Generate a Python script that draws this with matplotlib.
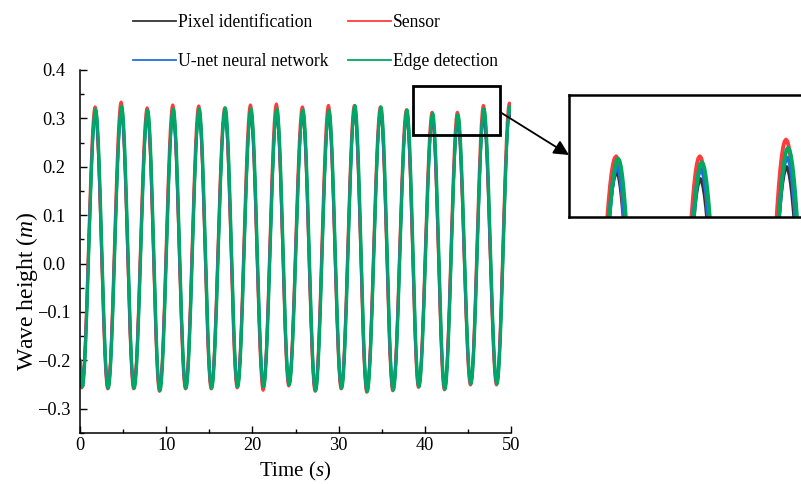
import numpy as np
import matplotlib
matplotlib.use('Agg')
import matplotlib.pyplot as plt
from matplotlib.lines import Line2D
from matplotlib.patches import Rectangle
from matplotlib.ticker import MultipleLocator

plt.rcParams['font.family'] = ['Liberation Serif', 'DejaVu Serif']
plt.rcParams['mathtext.fontset'] = 'custom'
plt.rcParams['mathtext.rm'] = 'Liberation Serif'
plt.rcParams['mathtext.it'] = 'Liberation Serif:italic'
plt.rcParams['axes.unicode_minus'] = True

# ---------------- data ----------------
series_names = ['Pixel identification', 'Sensor', 'U-net neural network', 'Edge detection']
series_colors = ['#333333', '#ff3b3b', '#1f6fe0', '#00a862']

# times of the wave troughs and crests (s), Edge detection curve
trough_times = [0.27, 3.28, 6.29, 9.28, 12.30, 15.28, 18.30, 21.31, 24.28,
                27.34, 30.36, 33.33, 36.35, 39.33, 42.34, 45.36, 48.38]
peak_times = [1.82, 4.84, 7.86, 10.83, 13.84, 16.86, 19.84, 22.85, 25.87,
              28.89, 31.90, 34.92, 37.94, 40.92, 43.85, 46.87, 49.88]

# time shift of each series relative to the trough/crest times (s)
lag_pixel = -0.05
lag_sensor = -0.07
lag_unet = -0.03
lag_edge = 0.0

# value at t = 0 and at t = 50 s
start_pixel, end_pixel = -0.200, 0.305
start_sensor, end_sensor = -0.205, 0.322
start_unet, end_unet = -0.200, 0.310
start_edge, end_edge = -0.200, 0.316

troughs_edge = [-0.255, -0.258, -0.258, -0.263, -0.258, -0.258, -0.255, -0.255, -0.251,
                -0.263, -0.258, -0.265, -0.262, -0.255, -0.260, -0.249, -0.249]
troughs_sensor = [-0.257, -0.259, -0.259, -0.264, -0.259, -0.259, -0.257, -0.262, -0.253,
                  -0.264, -0.259, -0.266, -0.263, -0.256, -0.261, -0.251, -0.251]
troughs_unet = [-0.253, -0.256, -0.256, -0.261, -0.256, -0.256, -0.253, -0.253, -0.249,
                -0.261, -0.256, -0.263, -0.260, -0.253, -0.258, -0.247, -0.247]
troughs_pixel = [-0.252, -0.255, -0.255, -0.260, -0.255, -0.255, -0.252, -0.252, -0.248,
                 -0.260, -0.255, -0.262, -0.259, -0.252, -0.257, -0.246, -0.246]

peaks_edge = [0.319, 0.325, 0.317, 0.320, 0.320, 0.322, 0.320, 0.320, 0.318,
              0.317, 0.327, 0.324, 0.318, 0.311, 0.308, 0.320, 0.325]
peaks_sensor = [0.324, 0.334, 0.322, 0.328, 0.326, 0.322, 0.328, 0.330, 0.324,
                0.327, 0.327, 0.324, 0.318, 0.313, 0.313, 0.327, 0.332]
peaks_unet = [0.314, 0.319, 0.312, 0.314, 0.315, 0.317, 0.314, 0.314, 0.313,
              0.312, 0.321, 0.318, 0.312, 0.304, 0.302, 0.312, 0.319]
peaks_pixel = [0.309, 0.313, 0.307, 0.309, 0.310, 0.312, 0.309, 0.309, 0.308,
               0.307, 0.315, 0.312, 0.306, 0.300, 0.294, 0.304, 0.313]

x_ticks = [0, 10, 20, 30, 40, 50]
y_ticks = [-0.3, -0.2, -0.1, 0.0, 0.1, 0.2, 0.3, 0.4]
y_tick_labels = ['\u22120.3', '\u22120.2', '\u22120.1', '0.0', '0.1', '0.2', '0.3', '0.4']

series = [
    (lag_pixel, start_pixel, end_pixel, troughs_pixel, peaks_pixel),
    (lag_sensor, start_sensor, end_sensor, troughs_sensor, peaks_sensor),
    (lag_unet, start_unet, end_unet, troughs_unet, peaks_unet),
    (lag_edge, start_edge, end_edge, troughs_edge, peaks_edge),
]


def wave_curve(lag, start, end, troughs, peaks):
    """Smooth curve through the read extrema (half-cosine between neighbours)."""
    kt = [0.0]
    kv = [start]
    for tt, tv, pt, pv in zip(trough_times, troughs, peak_times, peaks):
        kt += [tt + lag, pt + lag]
        kv += [tv, pv]
    kt.append(50.0)
    kv.append(end)
    ts, vs = [], []
    for i in range(len(kt) - 1):
        u = np.linspace(0, 1, 30, endpoint=False)
        ts.append(kt[i] + (kt[i + 1] - kt[i]) * u)
        vs.append(kv[i] + (kv[i + 1] - kv[i]) * (1 - np.cos(np.pi * u)) / 2)
    ts.append([kt[-1]])
    vs.append([kv[-1]])
    return np.concatenate(ts), np.concatenate(vs)


curves = [wave_curve(*s) for s in series]

# ---------------- figure ----------------
W, H = 801, 484
fig = plt.figure(figsize=(W / 100, H / 100), dpi=100)
ax = fig.add_axes([80 / W, 1 - 433 / H, 431 / W, 363 / H])

draw_order = [0, 1, 2, 3]
for i in draw_order:
    t, v = curves[i]
    ax.plot(t, v, color=series_colors[i], lw=2.1, solid_joinstyle='round')

ax.set_xlim(0, 50)
ax.set_ylim(-0.35, 0.4)
ax.spines['top'].set_visible(False)
ax.spines['right'].set_visible(False)
for sp in ['left', 'bottom']:
    ax.spines[sp].set_linewidth(1.1)

ax.set_xticks(x_ticks)
ax.set_xticklabels([str(x) for x in x_ticks])
ax.set_yticks(y_ticks)
ax.set_yticklabels(y_tick_labels)
ax.xaxis.set_minor_locator(MultipleLocator(5))
ax.yaxis.set_minor_locator(MultipleLocator(0.05))
ax.tick_params(which='major', direction='in', length=5, width=1.0, labelsize=13.2)
ax.tick_params(which='minor', direction='in', length=3, width=1.0)
ax.tick_params(axis='x', which='major', pad=3)
ax.tick_params(axis='y', which='major', pad=19)
plt.setp(ax.get_yticklabels(), ha='center')

ax.set_xlabel('Time ($\\it{s}$)', fontsize=15)
ax.set_ylabel('Wave height ($\\it{m}$)', fontsize=17)
ax.xaxis.set_label_coords(0.5, -0.075)
ax.yaxis.set_label_coords(-0.093, 0.39)

# zoom box on the main axes
ax.add_patch(Rectangle((38.6, 0.265), 10.1, 0.101, fill=False, ec='black',
                       lw=2.0, zorder=6, clip_on=False))

# inset
ins = fig.add_axes([569 / W, 1 - 217.3 / H, 237 / W, 122 / H])
for i in draw_order:
    t, v = curves[i]
    ins.plot(t, v, color=series_colors[i], lw=2.8)
ins.set_xlim(39.2, 47.5)
ins.set_ylim(0.262, 0.364)
ins.set_xticks([])
ins.set_yticks([])
for sp in ins.spines.values():
    sp.set_linewidth(1.8)

# arrow
ax.annotate('', xy=(569, H - 155), xytext=(500, H - 112),
            xycoords='figure pixels', textcoords='figure pixels',
            arrowprops=dict(arrowstyle='-|>,head_length=0.9,head_width=0.45',
                            color='black', lw=1.3, shrinkA=0, shrinkB=0),
            annotation_clip=False)

# legend
handles = [Line2D([], [], color=series_colors[i], lw=1.3) for i in range(4)]
order = [0, 2, 1, 3]
fig.legend([handles[i] for i in order], [series_names[i] for i in order],
           ncol=2, loc='upper left', bbox_to_anchor=(133 / W, 1 - 14 / H),
           frameon=False, fontsize=12.7, handlelength=2.43, handletextpad=0.12,
           columnspacing=1.1, labelspacing=1.25, borderpad=0, borderaxespad=0)

fig.savefig('out.png', dpi=100)
